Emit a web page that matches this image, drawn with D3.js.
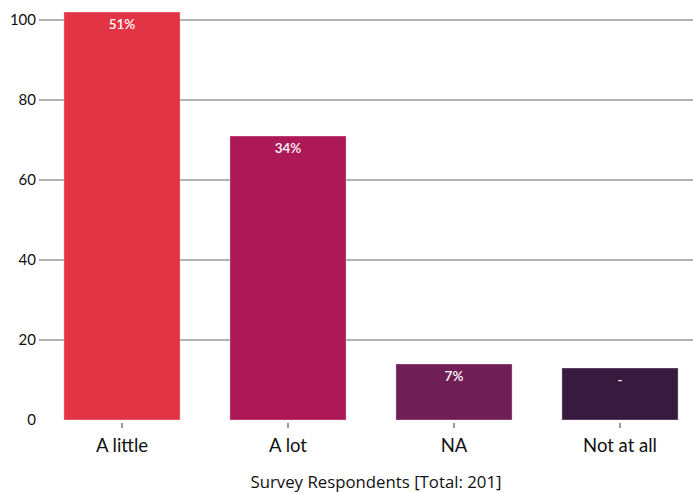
<!DOCTYPE html>
<html>
<head>
<meta charset="utf-8">
<script src="https://cdn.jsdelivr.net/npm/d3@7"></script>
<style>
  html, body { margin: 0; padding: 0; background: #fff; }
  svg text { font-family: "Lato", "Open Sans", sans-serif; }
</style>
</head>
<body>
<svg id="chart" width="693" height="493"></svg>
<script>
// Survey answers and respondent counts
const categories = ["A little", "A lot", "NA", "Not at all"];
const counts = [102, 71, 14, 13];
const shareLabels = ["51%", "34%", "7%", "-"];
const barColors = ["#e23444", "#ad1857", "#6f1f56", "#371a3e"];
const yTicks = [0, 20, 40, 60, 80, 100];
const xTitle = "Survey Respondents [Total: 201]";

const W = 693, H = 493;
const svg = d3.select("#chart");

const x = d3.scaleBand()
  .domain(categories)
  .range([39, 703])
  .paddingInner(0.3)
  .paddingOuter(0.15);

const y = d3.scaleLinear()
  .domain([0, 100])
  .range([420, 20]);

// Horizontal gridlines with y tick labels
const yAxis = svg.append("g").attr("transform", "translate(39,0)");
yAxis.selectAll("line")
  .data(yTicks.filter(d => d > 0))
  .join("line")
  .attr("x1", 0).attr("x2", W - 39)
  .attr("y1", d => y(d)).attr("y2", d => y(d))
  .attr("stroke", "#9a9a9a")
  .attr("stroke-width", 1.3);
yAxis.selectAll("text")
  .data(yTicks)
  .join("text")
  .attr("x", -3)
  .attr("y", d => y(d))
  .attr("dy", "0.36em")
  .attr("text-anchor", "end")
  .attr("font-size", 15)
  .attr("fill", "#111")
  .text(d => d);

// Bars
svg.append("g").selectAll("rect")
  .data(categories)
  .join("rect")
  .attr("x", d => x(d))
  .attr("width", x.bandwidth())
  .attr("y", (d, i) => y(counts[i]))
  .attr("height", (d, i) => y(0) - y(counts[i]))
  .attr("fill", (d, i) => barColors[i])
  .attr("stroke", "rgba(255,255,255,0.35)")
  .attr("stroke-width", 1);

// Share labels inside bar tops
svg.append("g").selectAll("text")
  .data(categories)
  .join("text")
  .attr("x", d => x(d) + x.bandwidth() / 2)
  .attr("y", (d, i) => y(counts[i]) + 17)
  .attr("text-anchor", "middle")
  .attr("font-size", 13.5)
  .attr("font-weight", "600")
  .attr("fill", "#fff")
  .text((d, i) => shareLabels[i]);

// Category axis
const xAxis = svg.append("g").attr("transform", `translate(0,${y(0)})`)
  .call(d3.axisBottom(x).tickSize(5));
xAxis.select(".domain").remove();
xAxis.selectAll(".tick line").attr("stroke", "#333").attr("transform", "translate(0,3)");
xAxis.selectAll(".tick text")
  .attr("y", 32)
  .attr("dy", 0)
  .attr("font-size", 18.5)
  .attr("fill", "#111")
  .style("font-family", "Lato, 'Open Sans', sans-serif");

// Axis title
svg.append("text")
  .attr("x", 376)
  .attr("y", 488)
  .attr("text-anchor", "middle")
  .attr("font-size", 16.8)
  .attr("fill", "#111")
  .style("font-family", "'Open Sans', sans-serif")
  .text(xTitle);
</script>
</body>
</html>
